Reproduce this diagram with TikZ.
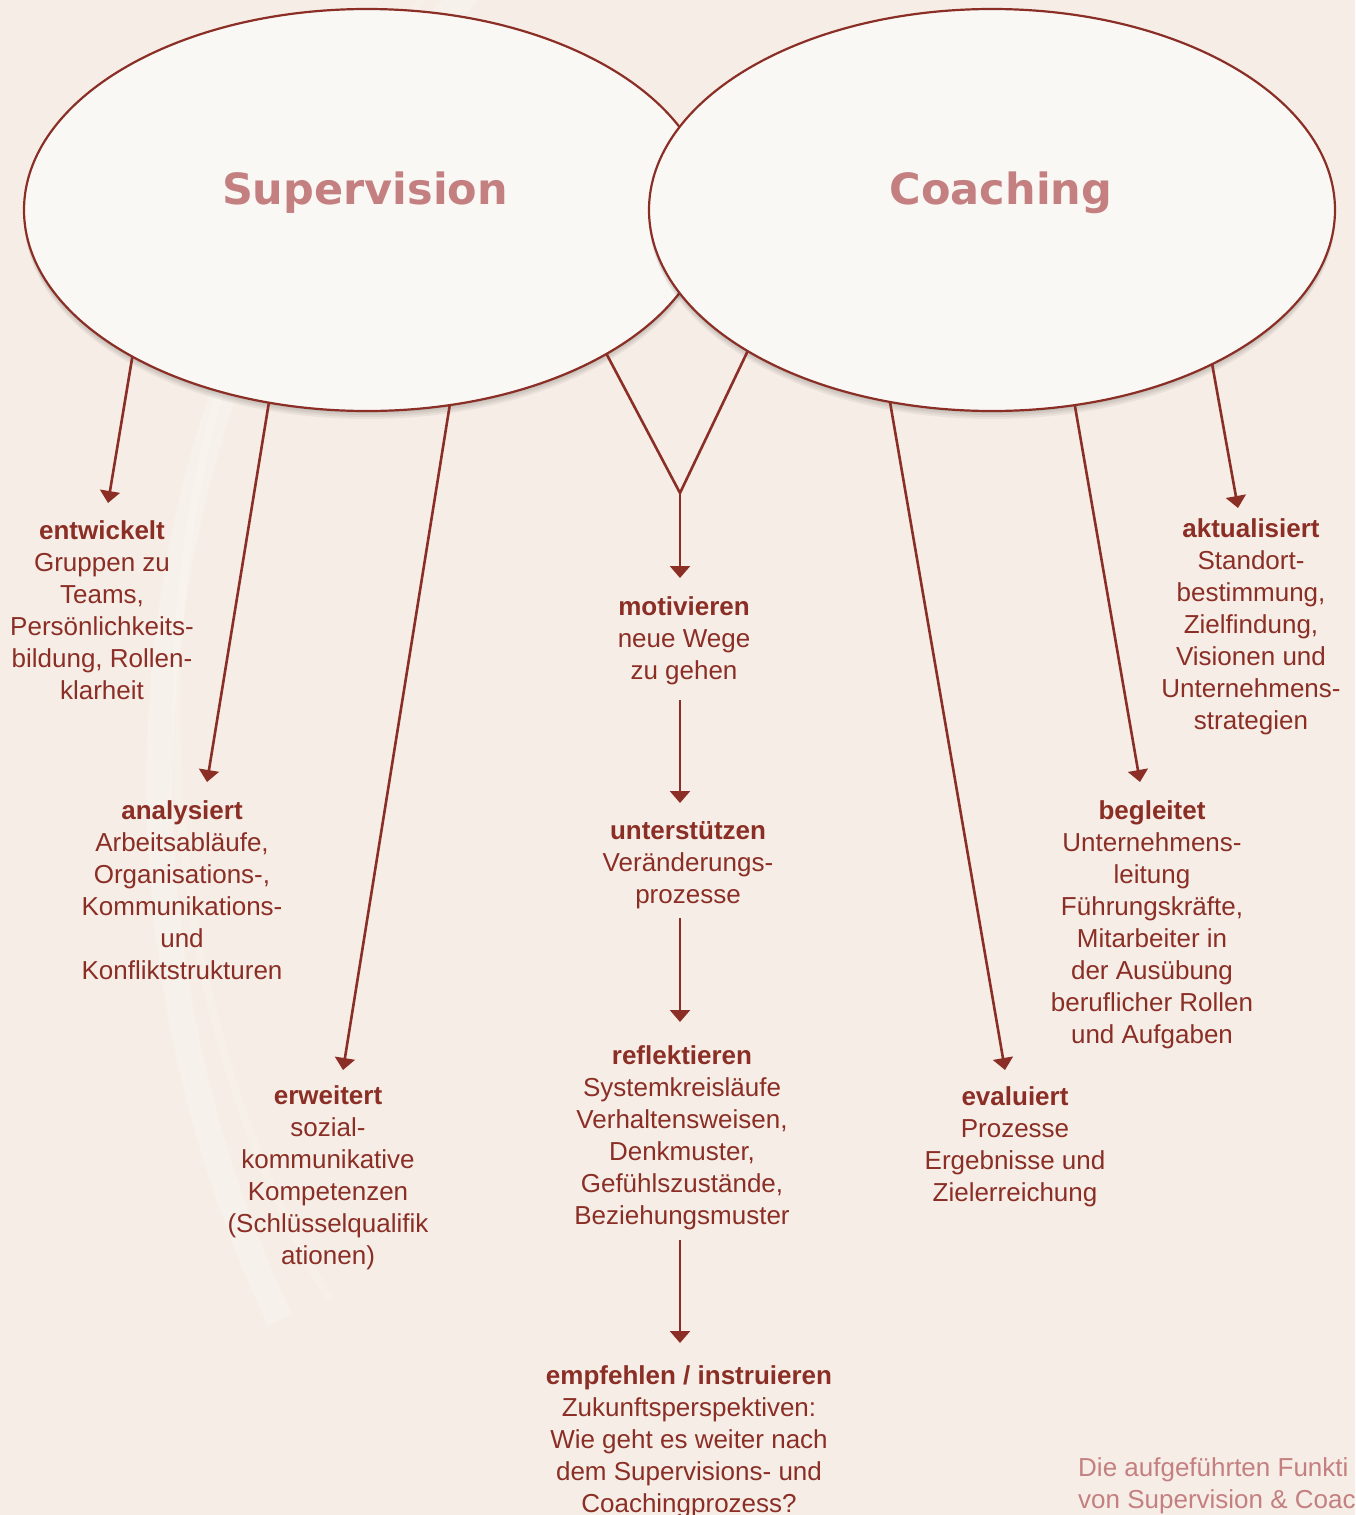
\documentclass[tikz,border=0pt]{standalone}
\usepackage{fontspec}
\setmainfont{Liberation Sans}
\newfontfamily\titlefont{DejaVu Sans}
\usetikzlibrary{shapes.geometric,arrows.meta}
\definecolor{bg}{HTML}{F6EEE6}
\definecolor{ellfill}{HTML}{FAF8F5}
\definecolor{dred}{HTML}{8A2E26}
\definecolor{rose}{HTML}{C48080}
\begin{document}
\begin{tikzpicture}[x=1pt,y=-1pt,
  bubble/.style={ellipse, draw=dred, line width=2.2pt, fill=ellfill,
    minimum width=686pt, minimum height=402pt, inner sep=0pt, outer sep=0pt},
  titletext/.style={font=\titlefont\bfseries\fontsize{43}{50}\selectfont, text=rose, inner sep=0pt},
  lbl/.style={align=center, text=dred, font=\fontsize{26}{32}\selectfont, anchor=base, inner sep=0pt},
  conn/.style={draw=dred, line width=2.6pt},
  arr/.style={conn, -{Triangle[width=20pt,length=12pt]}},
  shade/.style={fill=black, opacity=0.05},
]
\clip (0,0) rectangle (1355,1515);
\fill[bg] (0,0) rectangle (1355,1515);
% background swoosh
\draw[white, opacity=0.22, line width=26pt] (470,-10) .. controls (120,350) and (80,900) .. (280,1320);
\draw[white, opacity=0.15, line width=8pt] (430,-10) .. controls (100,380) and (120,950) .. (330,1300);

% Supervision
\foreach \s in {2,4,6,8} \fill[shade] (367,210+\s) ellipse [x radius=343, y radius=201];
\node[bubble] (sup) at (367,210) {};
% Coaching
\foreach \s in {2,4,6,8} \fill[shade] (992,210+\s) ellipse [x radius=343, y radius=201];
\node[bubble] (coa) at (992,210) {};

\node[titletext] (supt) at (365,193) {Supervision};
\node[titletext] (coat) at (1001,193) {Coaching};

% labels (anchor = baseline of the last line)
\node[lbl] (entw) at (102,699) {\textbf{entwickelt}\\Gruppen zu\\Teams,\\Persönlichkeits-\\bildung, Rollen-\\klarheit};
\node[lbl] (anal) at (182,979) {\textbf{analysiert}\\Arbeitsabläufe,\\Organisations-,\\Kommunikations-\\und\\Konfliktstrukturen};
\node[lbl] (erw) at (328,1264) {\textbf{erweitert}\\sozial-\\kommunikative\\Kompetenzen\\(Schlüsselqualifik\\ationen)};
\node[lbl] (mot) at (684,679) {\textbf{motivieren}\\neue Wege\\zu gehen};
\node[lbl] (unt) at (688,903) {\textbf{unterstützen}\\Veränderungs-\\prozesse};
\node[lbl] (ref) at (682,1224) {\textbf{reflektieren}\\Systemkreisläufe\\Verhaltensweisen,\\Denkmuster,\\Gefühlszustände,\\Beziehungsmuster};
\node[lbl] (emp) at (689,1512) {\textbf{empfehlen / instruieren}\\Zukunftsperspektiven:\\Wie geht es weiter nach\\dem Supervisions- und\\Coachingprozess?};
\node[lbl] (eval) at (1015,1201) {\textbf{evaluiert}\\Prozesse\\Ergebnisse und\\Zielerreichung};
\node[lbl] (begl) at (1152,1043) {\textbf{begleitet}\\Unternehmens-\\leitung\\Führungskräfte,\\Mitarbeiter in\\der Ausübung\\beruflicher Rollen\\und Aufgaben};
\node[lbl] (akt) at (1251,729) {\textbf{aktualisiert}\\Standort-\\bestimmung,\\Zielfindung,\\Visionen und\\Unternehmens-\\strategien};

\node[lbl, anchor=base west, align=left, text=rose] (foot) at (1078,1508) {Die aufgeführten Funkti\\von Supervision \& Coac};

% arrow tips / joints
\coordinate (tEntw) at (108,503);
\coordinate (tAnal) at (207,782);
\coordinate (tErw) at (343,1070);
\coordinate (vjoin) at (680,493);
\coordinate (tMot) at (680,578);
\coordinate (sUnt) at (680,700);
\coordinate (tUnt) at (680,803);
\coordinate (sRef) at (680,918);
\coordinate (tRef) at (680,1022);
\coordinate (sEmp) at (680,1240);
\coordinate (tEmp) at (680,1343);
\coordinate (tEval) at (1005,1070);
\coordinate (tBegl) at (1140,782);
\coordinate (tAkt) at (1238,508);

\draw[arr] (sup.212.5) -- (tEntw);
\draw[arr] (sup.243.3) -- (tAnal);
\draw[arr] (sup.293.7) -- (tErw);
\draw[conn, line join=miter] (sup.329.3) -- (vjoin) -- (coa.210.8);
\draw[arr] (vjoin) -- (tMot);
\draw[arr] (sUnt) -- (tUnt);
\draw[arr] (sRef) -- (tRef);
\draw[arr] (sEmp) -- (tEmp);
\draw[arr] (coa.242.7) -- (tEval);
\draw[arr] (coa.293) -- (tBegl);
\draw[arr] (coa.325) -- (tAkt);
\end{tikzpicture}
\end{document}
